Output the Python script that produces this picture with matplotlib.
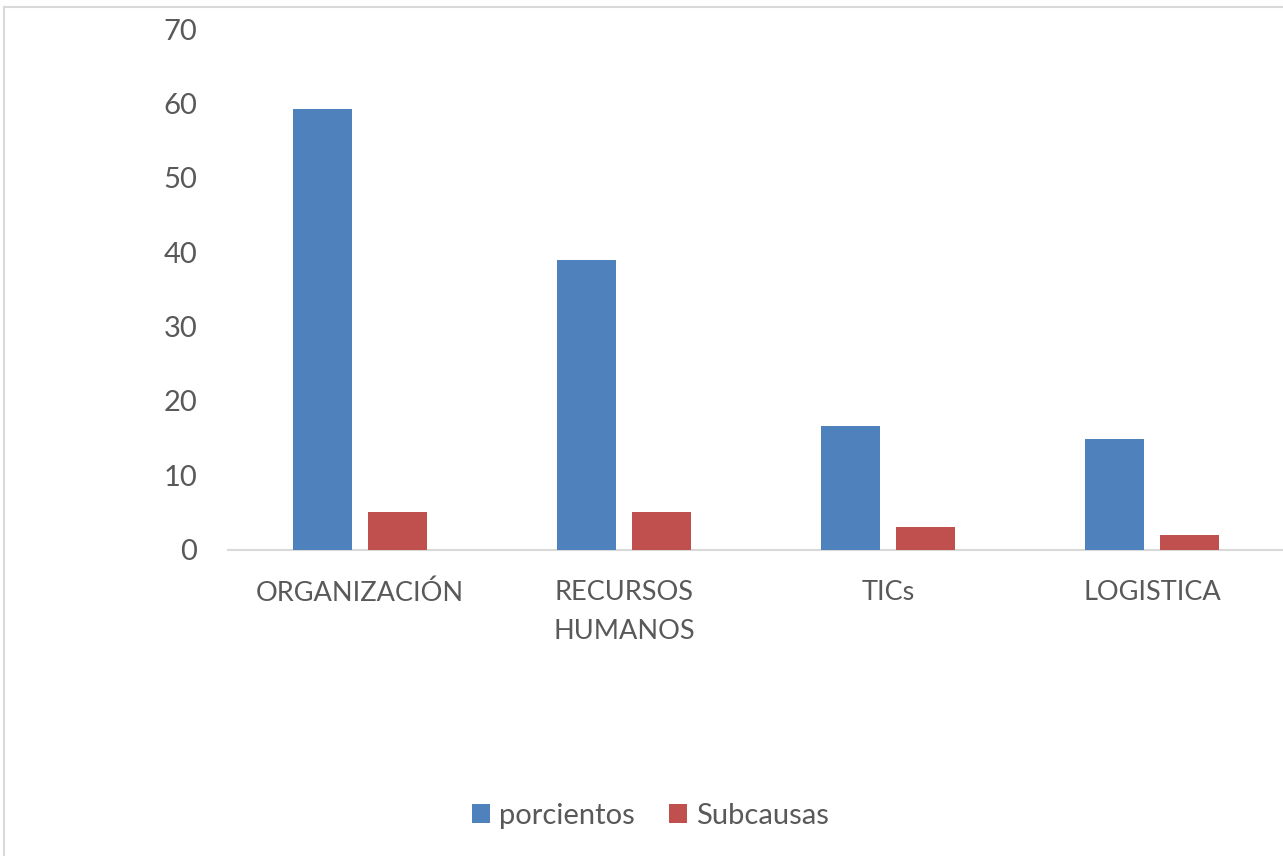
import matplotlib
matplotlib.use("Agg")
import matplotlib.pyplot as plt
from matplotlib.lines import Line2D
import numpy as np

categories = ["ORGANIZACIÓN", "RECURSOS\nHUMANOS", "TICs", "LOGISTICA"]
porcientos = [59.3, 38.9, 16.6, 14.8]
subcausas = [5, 5, 3, 2]
series_names = ["porcientos", "Subcausas"]
yticks = [0, 10, 20, 30, 40, 50, 60, 70]

BLUE = "#4F81BD"
RED = "#C0504D"
TXT = "#595959"
GRID = "#D9D9D9"

plt.rcParams['font.family'] = ['Lato', 'DejaVu Sans']

W, H = 1283, 856
fig = plt.figure(figsize=(W / 100, H / 100), dpi=100)
fig.patch.set_facecolor("white")

left = 228 / W
right = 1284 / W
bottom = 1 - 549.5 / H
top = 1 - 29 / H
ax = fig.add_axes([left, bottom, right - left, top - bottom])

x = np.arange(len(categories))
bw = 0.2235
off = 0.142
ax.bar(x - off, porcientos, bw, color=BLUE, label=series_names[0], zorder=3)
ax.bar(x + off, subcausas, bw, color=RED, label=series_names[1], zorder=3)

ax.set_xlim(-0.5, len(categories) - 0.5)
ax.set_ylim(0, 70)
ax.set_yticks(yticks)
ax.set_yticklabels([str(v) for v in yticks])
ax.set_xticks(x)
ax.set_xticklabels(categories)

for s in ["top", "right", "left"]:
    ax.spines[s].set_visible(False)
ax.spines["bottom"].set_color(GRID)
ax.spines["bottom"].set_linewidth(1.5)

ax.tick_params(axis="y", length=0, pad=22, labelsize=21, labelcolor=TXT)
ax.tick_params(axis="x", length=0, pad=22, labelsize=19.5, labelcolor=TXT)
for lbl in ax.get_xticklabels():
    lbl.set_linespacing(1.72)

leg = fig.legend(loc="center", bbox_to_anchor=(0.5 + 9 / W, 1 - 816 / H), ncol=2,
                 frameon=False, fontsize=21, labelcolor=TXT,
                 handlelength=0.62, handleheight=0.62, handletextpad=0.31,
                 columnspacing=1.17)

# outer chart-area border (left and top visible)
fig.add_artist(Line2D([3.5 / W, 3.5 / W], [0, 1 - 7 / H], transform=fig.transFigure,
                      color=GRID, linewidth=1.5))
fig.add_artist(Line2D([3.5 / W, 1], [1 - 7 / H, 1 - 7 / H], transform=fig.transFigure,
                      color=GRID, linewidth=1.5))

fig.savefig("out.png", dpi=100, facecolor="white")
